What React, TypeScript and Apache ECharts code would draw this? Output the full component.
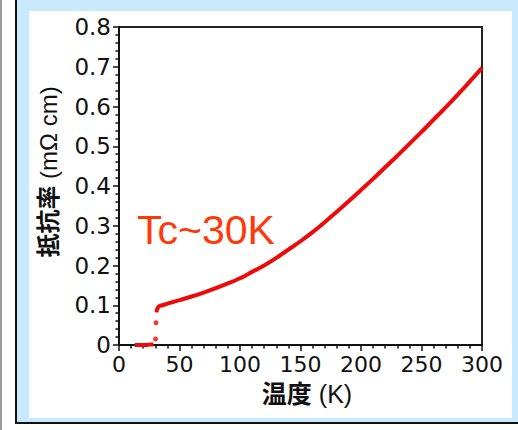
import React, { useEffect, useRef } from "react";
import * as echarts from "echarts";

// Temperature (K) and resistivity (mΩ cm)
const zeroTemps = [13, 15, 17, 19, 21, 23, 25, 27, 28.5];
const zeroRho = [0.0, 0.0, 0.0, 0.0, 0.0, 0.0, 0.001, 0.001, 0.002];
const transTemps = [30.2, 30.6];
const transRho = [0.015, 0.056];
const mainTemps = [31, 31.5, 33, 36, 40, 50, 60, 70, 80, 90, 100, 110, 120, 130, 140, 150, 160, 170, 180, 190, 200, 210, 220, 230, 240, 250, 260, 270, 280, 290, 300];
const mainRho = [0.082, 0.09, 0.097, 0.1, 0.104, 0.113, 0.122, 0.132, 0.143, 0.155, 0.168, 0.184, 0.2, 0.219, 0.24, 0.261, 0.284, 0.309, 0.335, 0.362, 0.39, 0.418, 0.447, 0.476, 0.506, 0.536, 0.567, 0.598, 0.63, 0.663, 0.697];
const xTicks = [0, 50, 100, 150, 200, 250, 300];
const yTicks = [0, 0.1, 0.2, 0.3, 0.4, 0.5, 0.6, 0.7, 0.8];
const xName = "温度";
const xUnit = " (K)";
const yName = "抵抗率";
const yUnit = " (mΩ cm)";
const note = "Tc~30K";

const FONT = "'Liberation Sans', Arial, 'Noto Sans CJK JP', sans-serif";
const TICKFONT = "'DejaVu Sans', sans-serif";
const RED = "#ee0a0a";

export default function App() {
  const ref = useRef<HTMLDivElement>(null);
  useEffect(() => {
    document.body.style.margin = "0";
    const chart = echarts.init(ref.current!, null, { renderer: "svg" });
    const pair = (xs: number[], ys: number[]) => xs.map((x, i) => [x, ys[i]]);
    const axisCommon = {
      axisLine: { show: true, onZero: false, lineStyle: { color: "#111", width: 2 } },
      axisTick: { show: true, inside: false, length: 6, lineStyle: { color: "#111", width: 1.5 } },
      minorTick: { show: true, splitNumber: 5, length: 3.5, lineStyle: { color: "#111", width: 1.5 } },
      splitLine: { show: false },
      minorSplitLine: { show: false },
    };
    chart.setOption({
      animation: false,
      backgroundColor: "transparent",
      grid: { left: 119, top: 27, width: 363, height: 318, show: true, borderColor: "#222", borderWidth: 2, backgroundColor: "transparent" },
      xAxis: {
        type: "value",
        min: xTicks[0],
        max: xTicks[xTicks.length - 1],
        interval: 50,
        ...axisCommon,
        axisLabel: { fontFamily: TICKFONT, fontSize: 22, color: "#111", margin: 8 },
      },
      yAxis: {
        type: "value",
        min: yTicks[0],
        max: yTicks[yTicks.length - 1],
        interval: 0.1,
        ...axisCommon,
        axisLabel: {
          fontFamily: TICKFONT,
          fontSize: 23,
          color: "#111",
          margin: 8,
          formatter: (v: number) => (Math.abs(v) < 1e-9 ? "0" : v.toFixed(1)),
        },
      },
      graphic: [
        {
          type: "text",
          x: 137,
          y: 230,
          style: { text: note, fontFamily: FONT, fontSize: 41, fill: "#ff3a0a", textVerticalAlign: "middle", textAlign: "left" },
        },
        {
          type: "text",
          x: 307,
          y: 394,
          style: {
            text: `{b|${xName}}{n|${xUnit}}`,
            textAlign: "center",
            textVerticalAlign: "middle",
            rich: {
              b: { fontFamily: FONT, fontSize: 25, fontWeight: "bold", fill: "#111" },
              n: { fontFamily: FONT, fontSize: 25, fill: "#111" },
            },
          },
        },
        {
          type: "text",
          x: 48,
          y: 172,
          rotation: Math.PI / 2,
          style: {
            text: `{b|${yName}}{n|${yUnit}}`,
            textAlign: "center",
            textVerticalAlign: "middle",
            rich: {
              b: { fontFamily: FONT, fontSize: 24, fontWeight: "bold", fill: "#111" },
              n: { fontFamily: FONT, fontSize: 24, fill: "#111" },
            },
          },
        },
      ],
      series: [
        {
          type: "line",
          data: pair(zeroTemps, zeroRho),
          showSymbol: false,
          lineStyle: { color: RED, width: 4 },
          z: 3,
        },
        {
          type: "scatter",
          data: pair(transTemps, transRho),
          symbolSize: 5,
          itemStyle: { color: RED },
          z: 3,
        },
        {
          type: "line",
          data: pair(mainTemps, mainRho),
          showSymbol: false,
          smooth: 0.3,
          lineStyle: { color: RED, width: 4 },
          z: 3,
        },
      ],
    });
    return () => chart.dispose();
  }, []);

  return (
    <div style={{ position: "relative", width: 518, height: 430, background: "#fff", overflow: "hidden" }}>
      <div style={{ position: "absolute", left: 0, top: 0, width: 2, height: 430, background: "#9a9a9a" }} />
      <div style={{ position: "absolute", left: 17, top: 0, width: 501, height: 422, background: "#cbe9fc" }} />
      <div style={{ position: "absolute", left: 15, top: 0, width: 2, height: 424, background: "#111" }} />
      <div style={{ position: "absolute", left: 15, top: 422, width: 503, height: 2, background: "#111" }} />
      <div style={{ position: "absolute", left: 29, top: 11, width: 483, height: 407, background: "#fff" }} />
      <div ref={ref} style={{ position: "absolute", left: 0, top: 0, width: 518, height: 430 }} />
    </div>
  );
}
